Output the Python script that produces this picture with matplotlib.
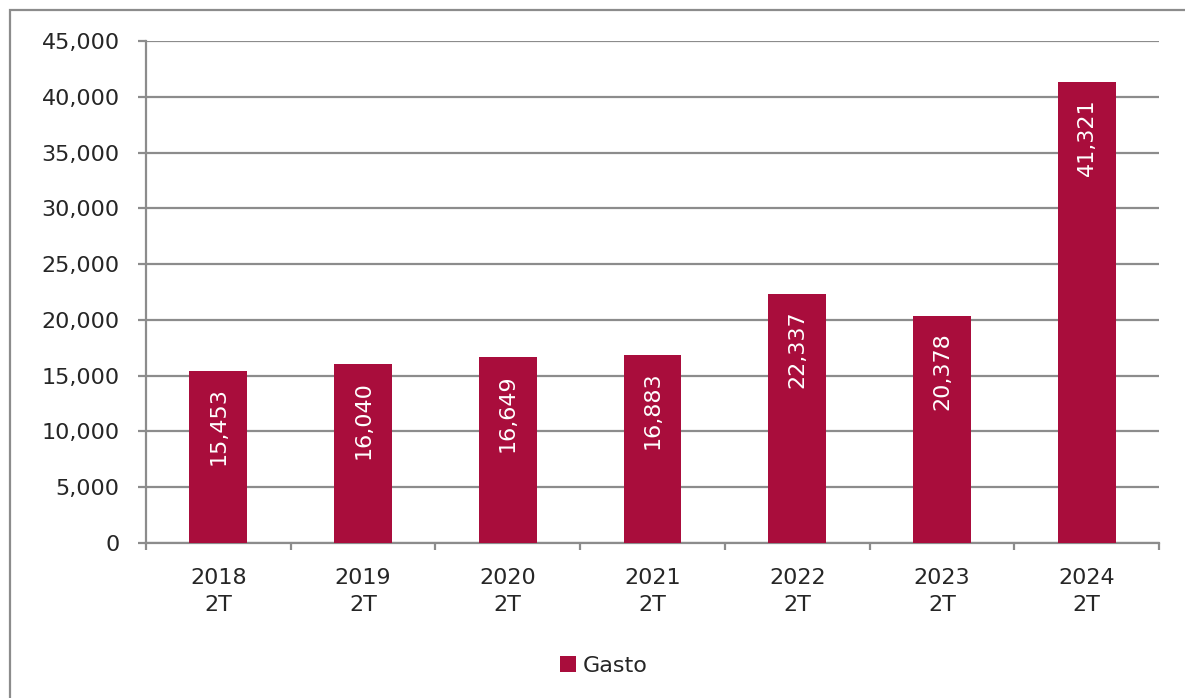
import matplotlib
matplotlib.use("Agg")
import matplotlib.pyplot as plt
from matplotlib.patches import Rectangle
from matplotlib.ticker import FuncFormatter, FixedLocator
import numpy as np

categories = ["2018\n2T", "2019\n2T", "2020\n2T", "2021\n2T", "2022\n2T", "2023\n2T", "2024\n2T"]
gasto = [15453, 16040, 16649, 16883, 22337, 20378, 41321]
series_name = "Gasto"

BAR = "#A90D3C"
GRID = "#8C8C8C"
TXT = "#262626"
FS = 16
plt.rcParams['font.family'] = ['DejaVu Sans']

W, H = 1185, 698
fig = plt.figure(figsize=(W/100, H/100), dpi=100)
ax = fig.add_axes([146/W, 1-543/H, (1159-146)/W, (543-41)/H])

fig.patches.append(Rectangle((10/W, -0.05), 1.1, 1-10/H+0.05, transform=fig.transFigure,
                             fill=False, edgecolor=GRID, linewidth=1.6, zorder=0))

x = np.arange(len(categories))
bars = ax.bar(x, gasto, width=0.4, color=BAR, zorder=3, label=series_name)

for xi, v in zip(x, gasto):
    ax.annotate(f"{v:,}", xy=(xi, v), xytext=(0, -12), textcoords="offset points",
                rotation=90, ha="center", va="top", color="white", fontsize=FS, zorder=4)

ax.set_xlim(-0.5, len(categories)-0.5)
ax.set_ylim(0, 45000)
ax.set_yticks(np.arange(0, 45001, 5000))
ax.yaxis.set_major_formatter(FuncFormatter(lambda v, p: f"{int(v):,}"))
ax.grid(axis="y", color=GRID, linewidth=1.6, zorder=0)
ax.set_xticks(x)
ax.set_xticklabels(categories, fontsize=FS, linespacing=1.45, color=TXT)
ax.xaxis.set_minor_locator(FixedLocator(np.arange(-0.5, len(categories), 1)))
ax.tick_params(axis="x", which="major", length=0, pad=18)
ax.tick_params(axis="x", which="minor", length=5, width=1.6, color=GRID)
ax.tick_params(axis="y", length=6, width=1.6, color=GRID, labelsize=FS, pad=13, labelcolor=TXT)
for s in ["top", "right"]:
    ax.spines[s].set_visible(False)
for s in ["left", "bottom"]:
    ax.spines[s].set_color(GRID)
    ax.spines[s].set_linewidth(1.6)

leg = fig.legend(handles=[bars], labels=[series_name], loc="center", bbox_to_anchor=(604/W, 1-666/H),
                 frameon=False, fontsize=FS, handlelength=0.7, handleheight=0.7, handletextpad=0.3,
                 labelcolor=TXT)

fig.savefig("out.png", dpi=100)
